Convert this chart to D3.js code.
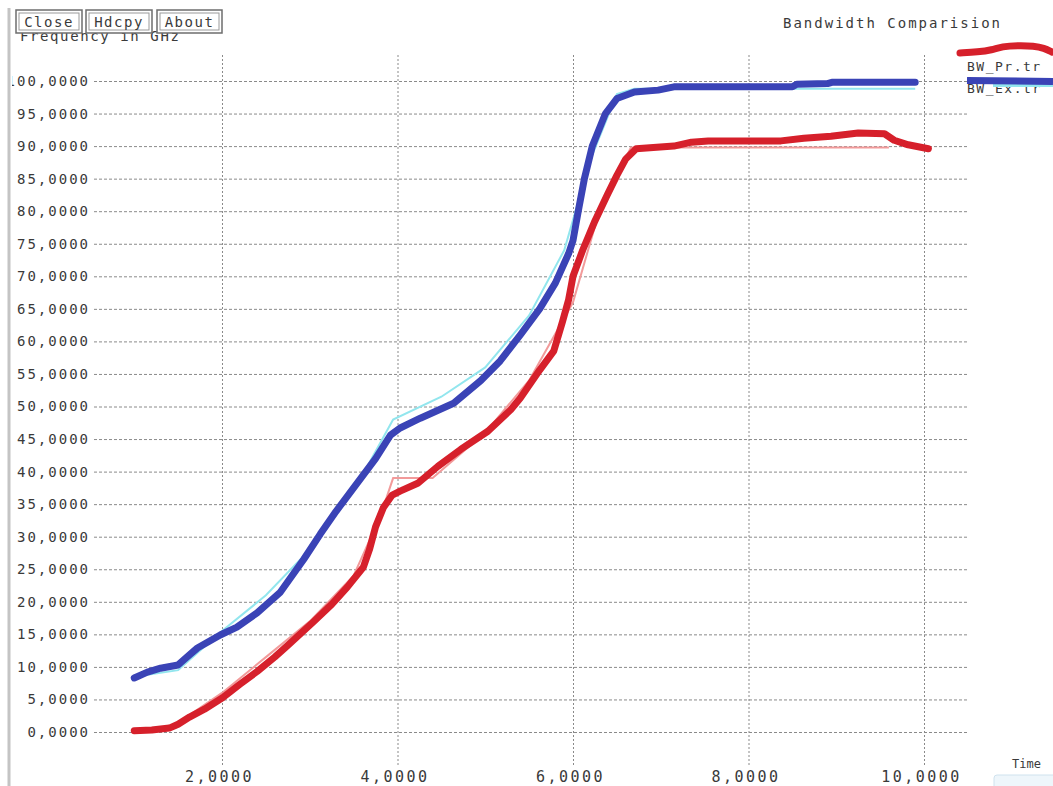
<!DOCTYPE html>
<html>
<head>
<meta charset="utf-8">
<script src="https://cdn.jsdelivr.net/npm/d3@7"></script>
<style>
  html, body { margin: 0; padding: 0; background: #fff; }
  svg { display: block; }
  text { font-family: "DejaVu Sans Mono", "Liberation Mono", monospace; fill: #3a3a3a; }
</style>
</head>
<body>
<svg id="chart" width="1053" height="786"></svg>
<script>
// Bandwidth traces: measured (thick) and fitted (thin) curves
const exTime = [1.0, 1.15, 1.3, 1.5, 1.6, 1.72, 1.85, 1.98, 2.17, 2.4, 2.66, 2.93, 3.12, 3.3, 3.5, 3.75, 3.92, 4.03, 4.26, 4.64, 4.95, 5.17, 5.4, 5.62, 5.8, 5.95, 6.0, 6.06, 6.13, 6.22, 6.37, 6.5, 6.7, 6.97, 7.15, 8.5, 8.55, 8.9, 8.95, 9.9];
const exBw   = [8.3, 9.2, 9.8, 10.3, 11.5, 12.9, 13.9, 14.9, 16.1, 18.3, 21.4, 26.5, 30.4, 33.9, 37.5, 42.0, 45.6, 46.7, 48.2, 50.5, 54.0, 57.0, 61.0, 65.0, 69.0, 73.5, 75.5, 80.0, 85.0, 90.0, 95.0, 97.3, 98.3, 98.6, 99.1, 99.1, 99.5, 99.6, 99.8, 99.8];

const prTime = [1.0, 1.2, 1.4, 1.5, 1.63, 1.8, 2.01, 2.2, 2.4, 2.6, 2.74, 3.04, 3.25, 3.43, 3.61, 3.68, 3.75, 3.84, 3.94, 4.03, 4.23, 4.46, 4.72, 5.03, 5.29, 5.4, 5.62, 5.78, 5.88, 5.95, 6.0, 6.11, 6.25, 6.39, 6.5, 6.6, 6.72, 7.15, 7.35, 7.54, 8.37, 8.63, 8.94, 9.25, 9.55, 9.66, 9.82, 10.05];
const prBw   = [0.2, 0.3, 0.6, 1.2, 2.3, 3.5, 5.3, 7.3, 9.3, 11.5, 13.2, 16.9, 19.6, 22.3, 25.3, 28.0, 31.5, 34.5, 36.4, 37.0, 38.2, 40.8, 43.4, 46.2, 49.5, 51.3, 55.6, 58.5, 63.0, 66.4, 70.0, 74.0, 78.5, 82.5, 85.5, 88.0, 89.6, 90.0, 90.6, 90.8, 90.8, 91.2, 91.5, 92.0, 91.9, 90.9, 90.2, 89.6];

const exFitTime = [1.0, 1.5, 2.0, 2.5, 3.0, 3.5, 3.95, 4.5, 5.0, 5.5, 5.9, 6.2, 6.5, 6.7, 9.9];
const exFitBw   = [8.5, 9.5, 15.5, 21.0, 28.0, 37.0, 48.0, 51.5, 56.0, 64.0, 74.0, 88.0, 98.0, 98.8, 98.8];

const prFitTime = [1.0, 1.4, 2.0, 2.5, 3.0, 3.5, 3.8, 3.95, 4.4, 5.0, 5.5, 6.0, 6.3, 6.66, 9.6];
const prFitBw   = [0.0, 0.5, 6.0, 11.5, 17.0, 24.0, 33.0, 39.0, 39.0, 46.0, 54.0, 66.0, 80.0, 89.8, 89.8];

const xTicks = [2, 4, 6, 8, 10];
const yTicks = [0, 5, 10, 15, 20, 25, 30, 35, 40, 45, 50, 55, 60, 65, 70, 75, 80, 85, 90, 95, 100];
const seriesNames = ["BW_Pr.tr", "BW_Ex.tr"];
const buttonLabels = ["Close", "Hdcpy", "About"];

const RED = "#d6202b", BLUE = "#3a43b6", PINK = "#f29a9a", CYAN = "#92e6ee";

const svg = d3.select("#chart");

const x = d3.scaleLinear().domain([2, 10]).range([222, 924]);
const y = d3.scaleLinear().domain([0, 100]).range([732, 81]);

const fmt = v => d3.format(".4f")(v).replace(".", ",");

// clip for the left labels (frame hides the leading digit)
svg.append("defs").append("clipPath").attr("id", "leftClip")
  .append("rect").attr("x", 12).attr("y", 0).attr("width", 1100).attr("height", 800);

// horizontal grid + y labels
const gridRight = 967, gridLeft = 92;
const yWrap = svg.append("g").attr("clip-path", "url(#leftClip)");
const yAxis = yWrap.append("g")
  .attr("transform", `translate(${gridRight},0)`)
  .call(d3.axisLeft(y).tickValues(yTicks).tickSize(gridRight - gridLeft).tickPadding(2).tickFormat(fmt));
yAxis.select(".domain").remove();
yAxis.selectAll(".tick line").attr("stroke", "#8a8a8a").attr("stroke-dasharray", "3,2");
yAxis.selectAll(".tick text")
  .style("font-family", "'DejaVu Sans Mono', monospace")
  .attr("font-size", 14).attr("letter-spacing", 2).attr("fill", "#3a3a3a");

// vertical grid + x labels
const gridTop = 55, gridBottom = 767;
const xAxis = svg.append("g")
  .attr("transform", `translate(0,${gridTop})`)
  .call(d3.axisBottom(x).tickValues(xTicks).tickSize(gridBottom - gridTop).tickPadding(4).tickFormat(fmt));
xAxis.select(".domain").remove();
xAxis.selectAll(".tick line").attr("stroke", "#8a8a8a").attr("stroke-dasharray", "2,2");
xAxis.selectAll(".tick text")
  .style("font-family", "'DejaVu Sans Mono', monospace")
  .attr("font-size", 15).attr("letter-spacing", 2.5).attr("fill", "#3a3a3a")
  .attr("dx", -3);

// curves
const line = d3.line().x(d => x(d[0])).y(d => y(d[1])).curve(d3.curveLinear);
const zip = (a, b) => a.map((t, i) => [t, b[i]]);

svg.append("path").datum(zip(exFitTime, exFitBw))
  .attr("d", line).attr("fill", "none").attr("stroke", CYAN).attr("stroke-width", 2);
svg.append("path").datum(zip(prFitTime, prFitBw))
  .attr("d", line).attr("fill", "none").attr("stroke", PINK).attr("stroke-width", 2);

svg.append("path").datum(zip(exTime, exBw))
  .attr("d", line).attr("fill", "none").attr("stroke", BLUE).attr("stroke-width", 7)
  .attr("stroke-linejoin", "round").attr("stroke-linecap", "round");
svg.append("path").datum(zip(prTime, prBw))
  .attr("d", line).attr("fill", "none").attr("stroke", RED).attr("stroke-width", 7)
  .attr("stroke-linejoin", "round").attr("stroke-linecap", "round");

// title
svg.append("text").attr("x", 783).attr("y", 28)
  .attr("font-size", 14).attr("letter-spacing", 2)
  .text("Bandwidth Comparision");

// legend
const lg = svg.append("g").attr("transform", "translate(958,0)");
const swatch = d3.line().curve(d3.curveBasis);
lg.append("path")
  .attr("d", swatch([[2, 53], [20, 52], [34, 50], [44, 46.5], [60, 45.5], [76, 46], [86, 48], [94, 52]]))
  .attr("fill", "none").attr("stroke", RED).attr("stroke-width", 7).attr("stroke-linecap", "round");
lg.append("text").attr("x", 9).attr("y", 71).attr("font-size", 13).attr("letter-spacing", 1.5)
  .text(seriesNames[0]);
lg.append("text").attr("x", 9).attr("y", 93).attr("font-size", 13).attr("letter-spacing", 1.5)
  .text(seriesNames[1]);
lg.append("line").attr("x1", 35).attr("x2", 95).attr("y1", 85.5).attr("y2", 85.5)
  .attr("stroke", CYAN).attr("stroke-width", 3);
lg.append("line").attr("x1", 9).attr("x2", 95).attr("y1", 80.5).attr("y2", 81.5)
  .attr("stroke", BLUE).attr("stroke-width", 7);

// y-axis caption, partly behind the buttons
svg.append("text").attr("x", 20).attr("y", 41).attr("font-size", 14).attr("letter-spacing", 1.6)
  .text("Frequency in GHz");

// button bar
const btnX = [16, 86, 157], btnW = [66, 66, 65];
const btn = svg.append("g").selectAll("g").data(buttonLabels).join("g")
  .attr("transform", (d, i) => `translate(${btnX[i]},10)`);
btn.append("rect").attr("width", (d, i) => btnW[i]).attr("height", 23)
  .attr("fill", "#fff").attr("stroke", "#6d6d6d").attr("stroke-width", 1.5);
btn.append("rect").attr("x", 3).attr("y", 3).attr("width", (d, i) => btnW[i] - 6).attr("height", 17)
  .attr("fill", "none").attr("stroke", "#9a9a9a").attr("stroke-width", 1);
btn.append("text").attr("x", (d, i) => btnW[i] / 2).attr("y", 17).attr("text-anchor", "middle")
  .attr("font-size", 14).attr("letter-spacing", 1.5).text(d => d);

// time axis caption
svg.append("rect").attr("x", 994).attr("y", 775).attr("width", 70).attr("height", 20).attr("rx", 3)
  .attr("fill", "#eef6fb").attr("stroke", "#cfe2ee");
svg.append("text").attr("x", 1012).attr("y", 768).attr("font-size", 12).text("Time");

// window frame on the left
svg.append("line").attr("x1", 9).attr("x2", 9).attr("y1", 8).attr("y2", 786)
  .attr("stroke", "#c4c4c4").attr("stroke-width", 3);
</script>
</body>
</html>
